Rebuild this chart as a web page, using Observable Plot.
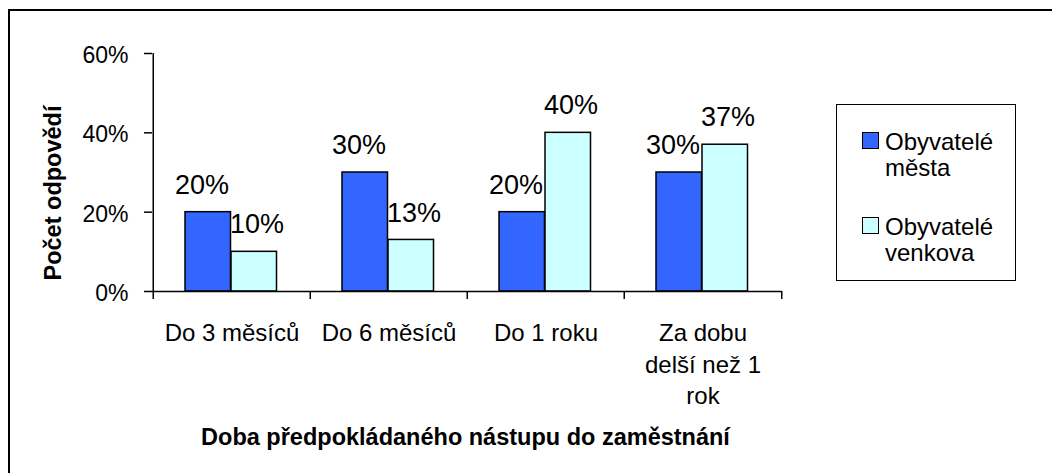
<!DOCTYPE html>
<html>
<head>
<meta charset="utf-8">
<script src="https://cdn.jsdelivr.net/npm/d3@7"></script>
<script src="https://cdn.jsdelivr.net/npm/@observablehq/plot@0.6"></script>
<style>
  html, body { margin: 0; padding: 0; background: #fff; }
  #wrap { position: relative; width: 1052px; height: 473px; overflow: hidden; background: #fff;
          font-family: "Liberation Sans", Arial, sans-serif; color: #000; }
  #chart { position: absolute; left: 0; top: 0; }
  #border { position: absolute; left: 8px; top: 9px; width: 1200px; height: 600px;
            border-left: 2.5px solid #000; border-top: 2.5px solid #000; pointer-events: none; }
  #legendBox { position: absolute; left: 836px; top: 104px; width: 180px; height: 177px;
               box-sizing: border-box; border: 1.5px solid #000; }
  .sw { position: absolute; left: 862px; width: 17px; height: 17px; box-sizing: border-box; border: 1.5px solid #000; }
  .lt { position: absolute; left: 885px; font-size: 24px; line-height: 26px; white-space: nowrap; }
</style>
</head>
<body>
<div id="wrap">
  <div id="chart"></div>
  <div id="border"></div>
  <div id="legendBox"></div>
  <div id="legendItems"></div>
</div>
<script>
// ---- data ----
const categories = ["Do 3 měsíců", "Do 6 měsíců", "Do 1 roku", "Za dobu\ndelší než 1\nrok"];
const seriesNames = ["Obyvatelé\nměsta", "Obyvatelé\nvenkova"];
const cityValues = [0.20, 0.30, 0.20, 0.30];
const ruralValues = [0.10, 0.13, 0.40, 0.37];
const yTicks = [0, 0.2, 0.4, 0.6];
const yTitle = "Počet odpovědí";
const xTitle = "Doba předpokládaného nástupu do zaměstnání";
const colors = ["#3366FF", "#CCFFFF"];

const city = categories.map((c, i) => ({cat: c, value: cityValues[i]}));
const rural = categories.map((c, i) => ({cat: c, value: ruralValues[i]}));

const W = 1052, H = 473;
const mL = 152, mR = 270, mT = 53, mB = 182;
const bw = (W - mL - mR) / categories.length;
const half = bw / 2;
const fmt = d3.format(".0%");
const font = "'Liberation Sans', Arial, sans-serif";

const plot = Plot.plot({
  width: W,
  height: H,
  marginLeft: mL,
  marginRight: mR,
  marginTop: mT,
  marginBottom: mB,
  style: {fontFamily: font, color: "#000", background: "transparent"},
  x: {domain: categories, padding: 0, label: null},
  y: {domain: [0, 0.6], label: null},
  marks: [
    Plot.barY(city, {x: "cat", y: "value", fill: colors[0], stroke: "#000", strokeWidth: 1.5,
      insetLeft: 32, insetRight: 79.5}),
    Plot.barY(rural, {x: "cat", y: "value", fill: colors[1], stroke: "#000", strokeWidth: 1.5,
      insetLeft: 78, insetRight: 33.5}),
    Plot.ruleY([0], {stroke: "#000", strokeWidth: 1.5}),
    Plot.ruleX([categories[0]], {y1: 0, y2: 0.6, dx: -half, stroke: "#000", strokeWidth: 1.5}),
    // y axis ticks and labels
    Plot.axisY({ticks: yTicks, tickSize: 8, tickFormat: () => "", strokeWidth: 1.5, label: null}),
    Plot.axisY({ticks: yTicks, tickSize: 0, tickPadding: 24, tickFormat: fmt, fontSize: 23, dy: 2, label: null}),
    // x boundary ticks
    Plot.axisX({tickSize: 8, tickFormat: () => "", dx: -half, strokeWidth: 1.5, label: null}),
    Plot.axisX({ticks: [categories[categories.length - 1]], tickSize: 8, tickFormat: () => "", dx: half, strokeWidth: 1.5, label: null}),
    // category labels
    Plot.axisX({tickSize: 0, tickPadding: 27, fontSize: 24, lineHeight: 1.32, label: null}),
    // data labels
    Plot.text(city, {x: "cat", y: "value", text: d => fmt(d.value), dx: -30, dy: -27, fontSize: 27}),
    Plot.text(rural, {x: "cat", y: "value", text: d => fmt(d.value), dx: 25, dy: -27, fontSize: 27}),
    // axis titles
    Plot.text([yTitle], {frameAnchor: "left", textAnchor: "middle", lineAnchor: "middle", rotate: -90,
      dx: -99.5, dy: 20.5, fontSize: 23.5, fontWeight: "bold"}),
    Plot.text([xTitle], {frameAnchor: "bottom", textAnchor: "middle", lineAnchor: "middle",
      dx: -2, dy: 145.5, fontSize: 23.5, fontWeight: "bold"})
  ]
});
document.getElementById("chart").appendChild(plot);

// legend
const items = document.getElementById("legendItems");
const swTops = [132, 217];
const txTops = [129, 214];
seriesNames.forEach((name, i) => {
  const sw = document.createElement("div");
  sw.className = "sw";
  sw.style.top = swTops[i] + "px";
  sw.style.background = colors[i];
  items.appendChild(sw);
  const t = document.createElement("div");
  t.className = "lt";
  t.style.top = txTops[i] + "px";
  t.innerHTML = name.split("\n").join("<br>");
  items.appendChild(t);
});
</script>
</body>
</html>
